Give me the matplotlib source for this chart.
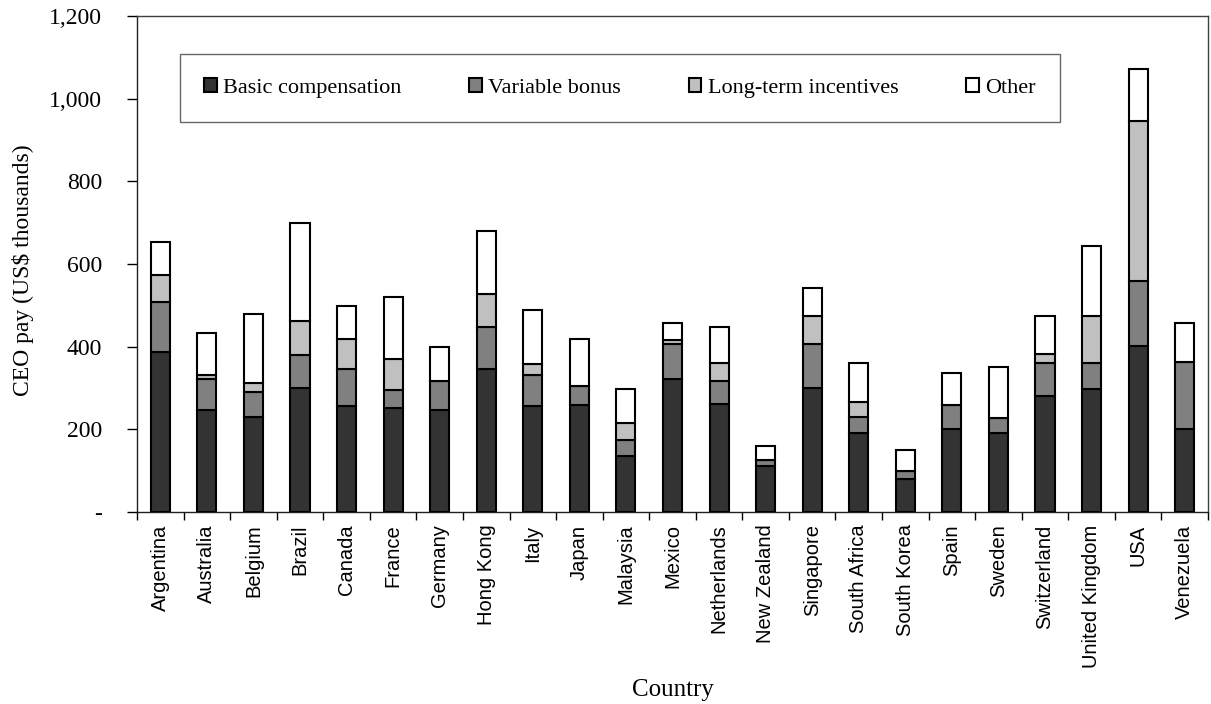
import matplotlib
matplotlib.use("Agg")
import matplotlib.pyplot as plt
from matplotlib.ticker import FuncFormatter, FixedLocator
import numpy as np

countries = ["Argentina", "Australia", "Belgium", "Brazil", "Canada", "France",
             "Germany", "Hong Kong", "Italy", "Japan", "Malaysia", "Mexico",
             "Netherlands", "New Zealand", "Singapore", "South Africa",
             "South Korea", "Spain", "Sweden", "Switzerland", "United Kingdom",
             "USA", "Venezuela"]
basic = [387, 246, 230, 301, 256, 252, 246, 347, 256, 260, 135, 321, 261, 111,
         301, 190, 79, 200, 191, 281, 297, 402, 200]
bonus = [121, 75, 60, 80, 91, 44, 70, 101, 75, 46, 40, 85, 55, 14, 105, 40, 19,
         60, 36, 80, 64, 157, 163]
lti = [65, 11, 22, 81, 71, 75, 0, 80, 26, 0, 41, 11, 44, 0, 67, 36, 0, 0, 0,
       22, 112, 387, 0]
other = [80, 101, 166, 238, 80, 148, 82, 151, 132, 112, 81, 40, 88, 35, 70, 95,
         52, 77, 125, 90, 171, 126, 95]
series_names = ["Basic compensation", "Variable bonus", "Long-term incentives", "Other"]
colors = ["#333333", "#808080", "#c0c0c0", "#ffffff"]
yticks = [0, 200, 400, 600, 800, 1000, 1200]

fig = plt.figure(figsize=(12.11, 7.04), dpi=100)
ax = fig.add_axes([137 / 1211, 1 - 512 / 704, 1071 / 1211, 496 / 704])

x = np.arange(len(countries))
bottom = np.zeros(len(countries))
handles = []
for vals, name, c in zip([basic, bonus, lti, other], series_names, colors):
    v = np.array(vals, dtype=float)
    b = ax.bar(x, v, width=0.41, bottom=bottom, color=c, edgecolor="black",
               linewidth=1.5, label=name, zorder=3)
    handles.append(b)
    bottom += v

ax.set_xlim(-0.5, len(countries) - 0.5)
ax.set_ylim(0, 1200)
ax.set_yticks(yticks)
ax.yaxis.set_major_formatter(FuncFormatter(lambda v, p: "-" if v == 0 else f"{int(v):,}"))
ax.tick_params(axis="y", direction="out", length=7, width=1, pad=18,
               labelsize=17)
for lab in ax.get_yticklabels():
    lab.set_fontfamily("Liberation Serif")

ax.set_xticks(x)
ax.set_xticklabels(countries, rotation=90, fontfamily="Liberation Sans", fontsize=14.5)
ax.tick_params(axis="x", which="major", length=0, pad=9)
ax.xaxis.set_minor_locator(FixedLocator(np.arange(-0.5, len(countries), 1.0)))
ax.tick_params(axis="x", which="minor", direction="out", length=6, width=1)

for s in ax.spines.values():
    s.set_color("#404040")
    s.set_linewidth(1)
ax.spines["left"].set_color("#202020")
ax.spines["bottom"].set_color("#202020")

ax.set_ylabel("CEO pay (US$ thousands)", fontfamily="Liberation Serif", fontsize=17)
ax.yaxis.set_label_coords((23 - 137) / 1071, (512 - 270) / 496)
ax.set_xlabel("Country", fontfamily="Liberation Serif", fontsize=18)
ax.xaxis.set_label_coords(0.5, (512 - 690) / 496)
ax.xaxis.label.set_va("center")
ax.yaxis.label.set_va("center")

leg = ax.legend(handles=handles, labels=series_names, ncol=4, mode="expand",
                bbox_to_anchor=(0.040, 0.782, 0.822, 0.145), loc="center",
                prop={"family": "Liberation Serif", "size": 16},
                frameon=True, fancybox=False, borderpad=1.1,
                handlelength=0.55, handleheight=0.55, handletextpad=0.3,
                borderaxespad=0)
leg.get_frame().set_edgecolor("#404040")
leg.get_frame().set_linewidth(1)

fig.savefig("out.png", dpi=100)
